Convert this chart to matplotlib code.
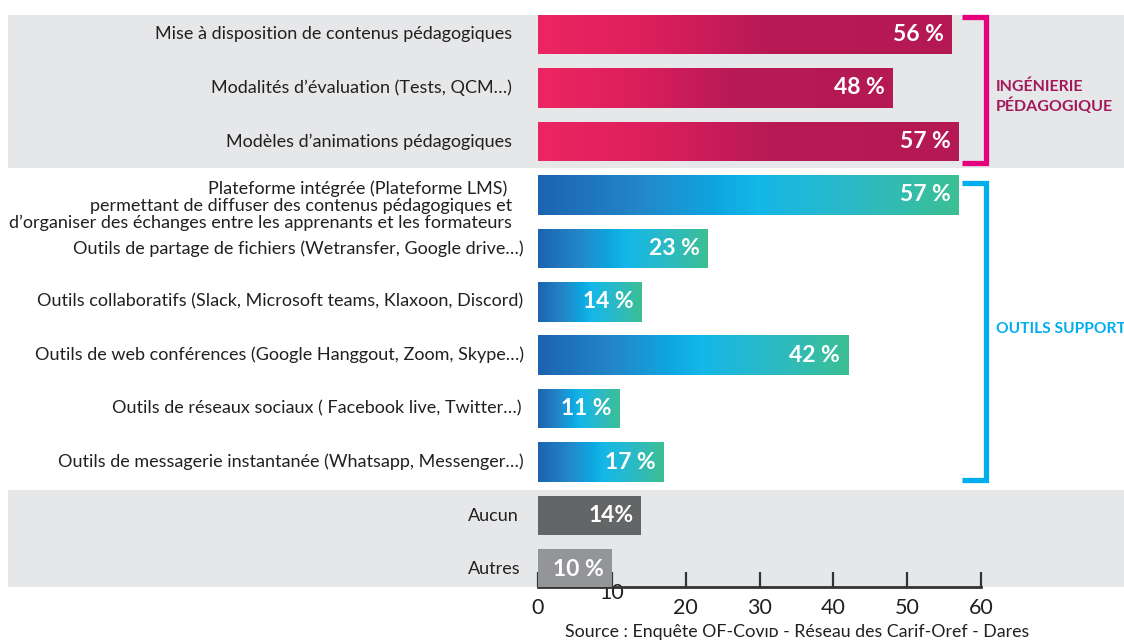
import matplotlib
matplotlib.use("Agg")
import matplotlib.pyplot as plt
import matplotlib.transforms as mtransforms
from matplotlib.colors import LinearSegmentedColormap
from matplotlib.lines import Line2D
import numpy as np

plt.rcParams['font.family'] = ['Lato', 'DejaVu Sans']

# ---------------- data ----------------
categories = [
    "Mise à disposition de contenus pédagogiques",
    "Modalités d’évaluation (Tests, QCM…)",
    "Modèles d’animations pédagogiques",
    "Plateforme intégrée (Plateforme LMS) \npermettant de diffuser des contenus pédagogiques et\nd’organiser des échanges entre les apprenants et les formateurs",
    "Outils de partage de fichiers (Wetransfer, Google drive…)",
    "Outils collaboratifs (Slack, Microsoft teams, Klaxoon, Discord)",
    "Outils de web conférences (Google Hanggout, Zoom, Skype…)",
    "Outils de réseaux sociaux ( Facebook live, Twitter…)",
    "Outils de messagerie instantanée (Whatsapp, Messenger…)",
    "Aucun",
    "Autres",
]
values = [56, 48, 57, 57, 23, 14, 42, 11, 17, 14, 10]
value_labels = ["56 %", "48 %", "57 %", "57 %", "23 %", "14 %", "42 %", "11 %", "17 %", "14%", "10 %"]
groups = ["ing", "ing", "ing", "out", "out", "out", "out", "out", "out", "aucun", "autres"]
xticks = [0, 10, 20, 30, 40, 50, 60]
group_titles = {"ing": "INGÉNIERIE\nPÉDAGOGIQUE", "out": "OUTILS SUPPORT"}
source_text = "Source : Enquête OF-Cᴏᴠɪᴅ - Réseau des Carif-Oref - Dares"

# ---------------- style ----------------
W, H, DPI = 1124, 641, 100
label_pad_px = [26, 26, 26, 26, 14, 15, 14, 17, 14, 19, 17]
label_dy = [0, 0, 0, 0.2, 0, 0, 0, 0, 0, 0, 0]
pink_cmap = LinearSegmentedColormap.from_list(
    "pink", [(0, "#ec2662"), (0.25, "#de1f5d"), (0.55, "#b81a55"), (1, "#b41954")])
blue_cmap = LinearSegmentedColormap.from_list(
    "blue", [(0, "#1c63b0"), (0.25, "#2388ca"), (0.42, "#0ea6df"), (0.52, "#14b7e8"),
             (0.75, "#2bbac6"), (1, "#3cbf93")])
solid = {"aucun": "#646567", "autres": "#939598"}
grey_band = "#e6e7e8"
text_dark = "#231f20"

fig = plt.figure(figsize=(W / DPI, H / DPI), dpi=DPI)
fig.patch.set_facecolor("white")
ax_left, ax_right = 538 / W, 981 / W
ax_bottom = 1 - 587 / H
ax = fig.add_axes([ax_left, ax_bottom, ax_right - ax_left, 1 - ax_bottom])
ax.set_facecolor("none")

step = 53.45
y_top = -34.5 / step
y_bot = (587 - 34.5) / step
bar_h = 0.74
ypos = np.arange(len(categories))

mixed = mtransforms.blended_transform_factory(fig.transFigure, ax.transData)

# grey background bands
for (y0, y1) in [(-0.36, 2.49), (8.52, y_bot)]:
    r = plt.Rectangle((8 / W, y0), 1 - 8 / W, y1 - y0, transform=mixed,
                      facecolor=grey_band, edgecolor="none", zorder=0, clip_on=False)
    ax.add_patch(r)

grad = np.linspace(0, 1, 256).reshape(1, -1)
bars = ax.barh(ypos, values, height=bar_h, color="none", edgecolor="none", zorder=3)
for b, g, v in zip(bars, groups, values):
    x0, y0 = b.get_x(), b.get_y()
    w, h = b.get_width(), b.get_height()
    if g in solid:
        b.set_facecolor(solid[g])
    else:
        cmap = pink_cmap if g == "ing" else blue_cmap
        im = ax.imshow(grad, cmap=cmap, aspect="auto", extent=(x0, x0 + w, y0 + h, y0),
                       interpolation="bilinear", zorder=3)
        im.set_clip_path(b)

ax.set_xlim(0, 60)
ax.set_ylim(y_bot, y_top)

# value labels
for y, v, lab in zip(ypos, values, value_labels):
    ax.annotate(lab, xy=(v, y), xytext=(-8, 0), textcoords="offset pixels",
                ha="right", va="center", color="white", fontsize=16.5,
                fontweight="bold", zorder=5)

# category labels
for y, c, p, dy in zip(ypos, categories, label_pad_px, label_dy):
    ax.annotate(c, xy=(0, y + dy), xytext=(-p, 0), textcoords="offset pixels",
                ha="right", va="center", color=text_dark, fontsize=13,
                multialignment="right", linespacing=1.05, annotation_clip=False)

# axes styling
for s in ["top", "left", "right"]:
    ax.spines[s].set_visible(False)
ax.spines["bottom"].set_linewidth(2)
ax.spines["bottom"].set_color("#333333")
ax.spines["bottom"].set_zorder(2)
ax.set_yticks([])
ax.set_xticks(xticks)
ax.set_xticklabels([str(t) for t in xticks])
ax.tick_params(axis="x", direction="in", length=11, width=1.6, color="#333333",
               labelsize=15.5, labelcolor=text_dark, pad=8)
lbl = ax.xaxis.get_major_ticks()[1].label1
lbl.set_transform(lbl.get_transform() +
                  mtransforms.ScaledTranslation(0, 15 / DPI, fig.dpi_scale_trans))

# brackets
def bracket(y0, y1, color):
    xs = [962 / W, 986 / W, 986 / W, 962 / W]
    ys = [y0, y0, y1, y1]
    ln = Line2D(xs, ys, transform=mixed, color=color, linewidth=3.8,
                solid_joinstyle="miter", solid_capstyle="butt", clip_on=False, zorder=4)
    ax.add_line(ln)

bracket(-0.33, 2.40, "#e6007e")
bracket(2.77, 8.33, "#00aeef")
ax.text(996 / W, 1.17, group_titles["ing"], transform=mixed, ha="left", va="center",
        color="#a2195b", fontsize=11.5, fontweight="bold", linespacing=1.25, clip_on=False)
ax.text(996 / W, 5.51, group_titles["out"], transform=mixed, ha="left", va="center",
        color="#00aeef", fontsize=11.2, fontweight="bold", clip_on=False)

fig.text(797 / W, 1 - 632 / H, source_text, ha="center", va="center",
         fontsize=12.8, color=text_dark)

fig.savefig("out.png", dpi=DPI)
